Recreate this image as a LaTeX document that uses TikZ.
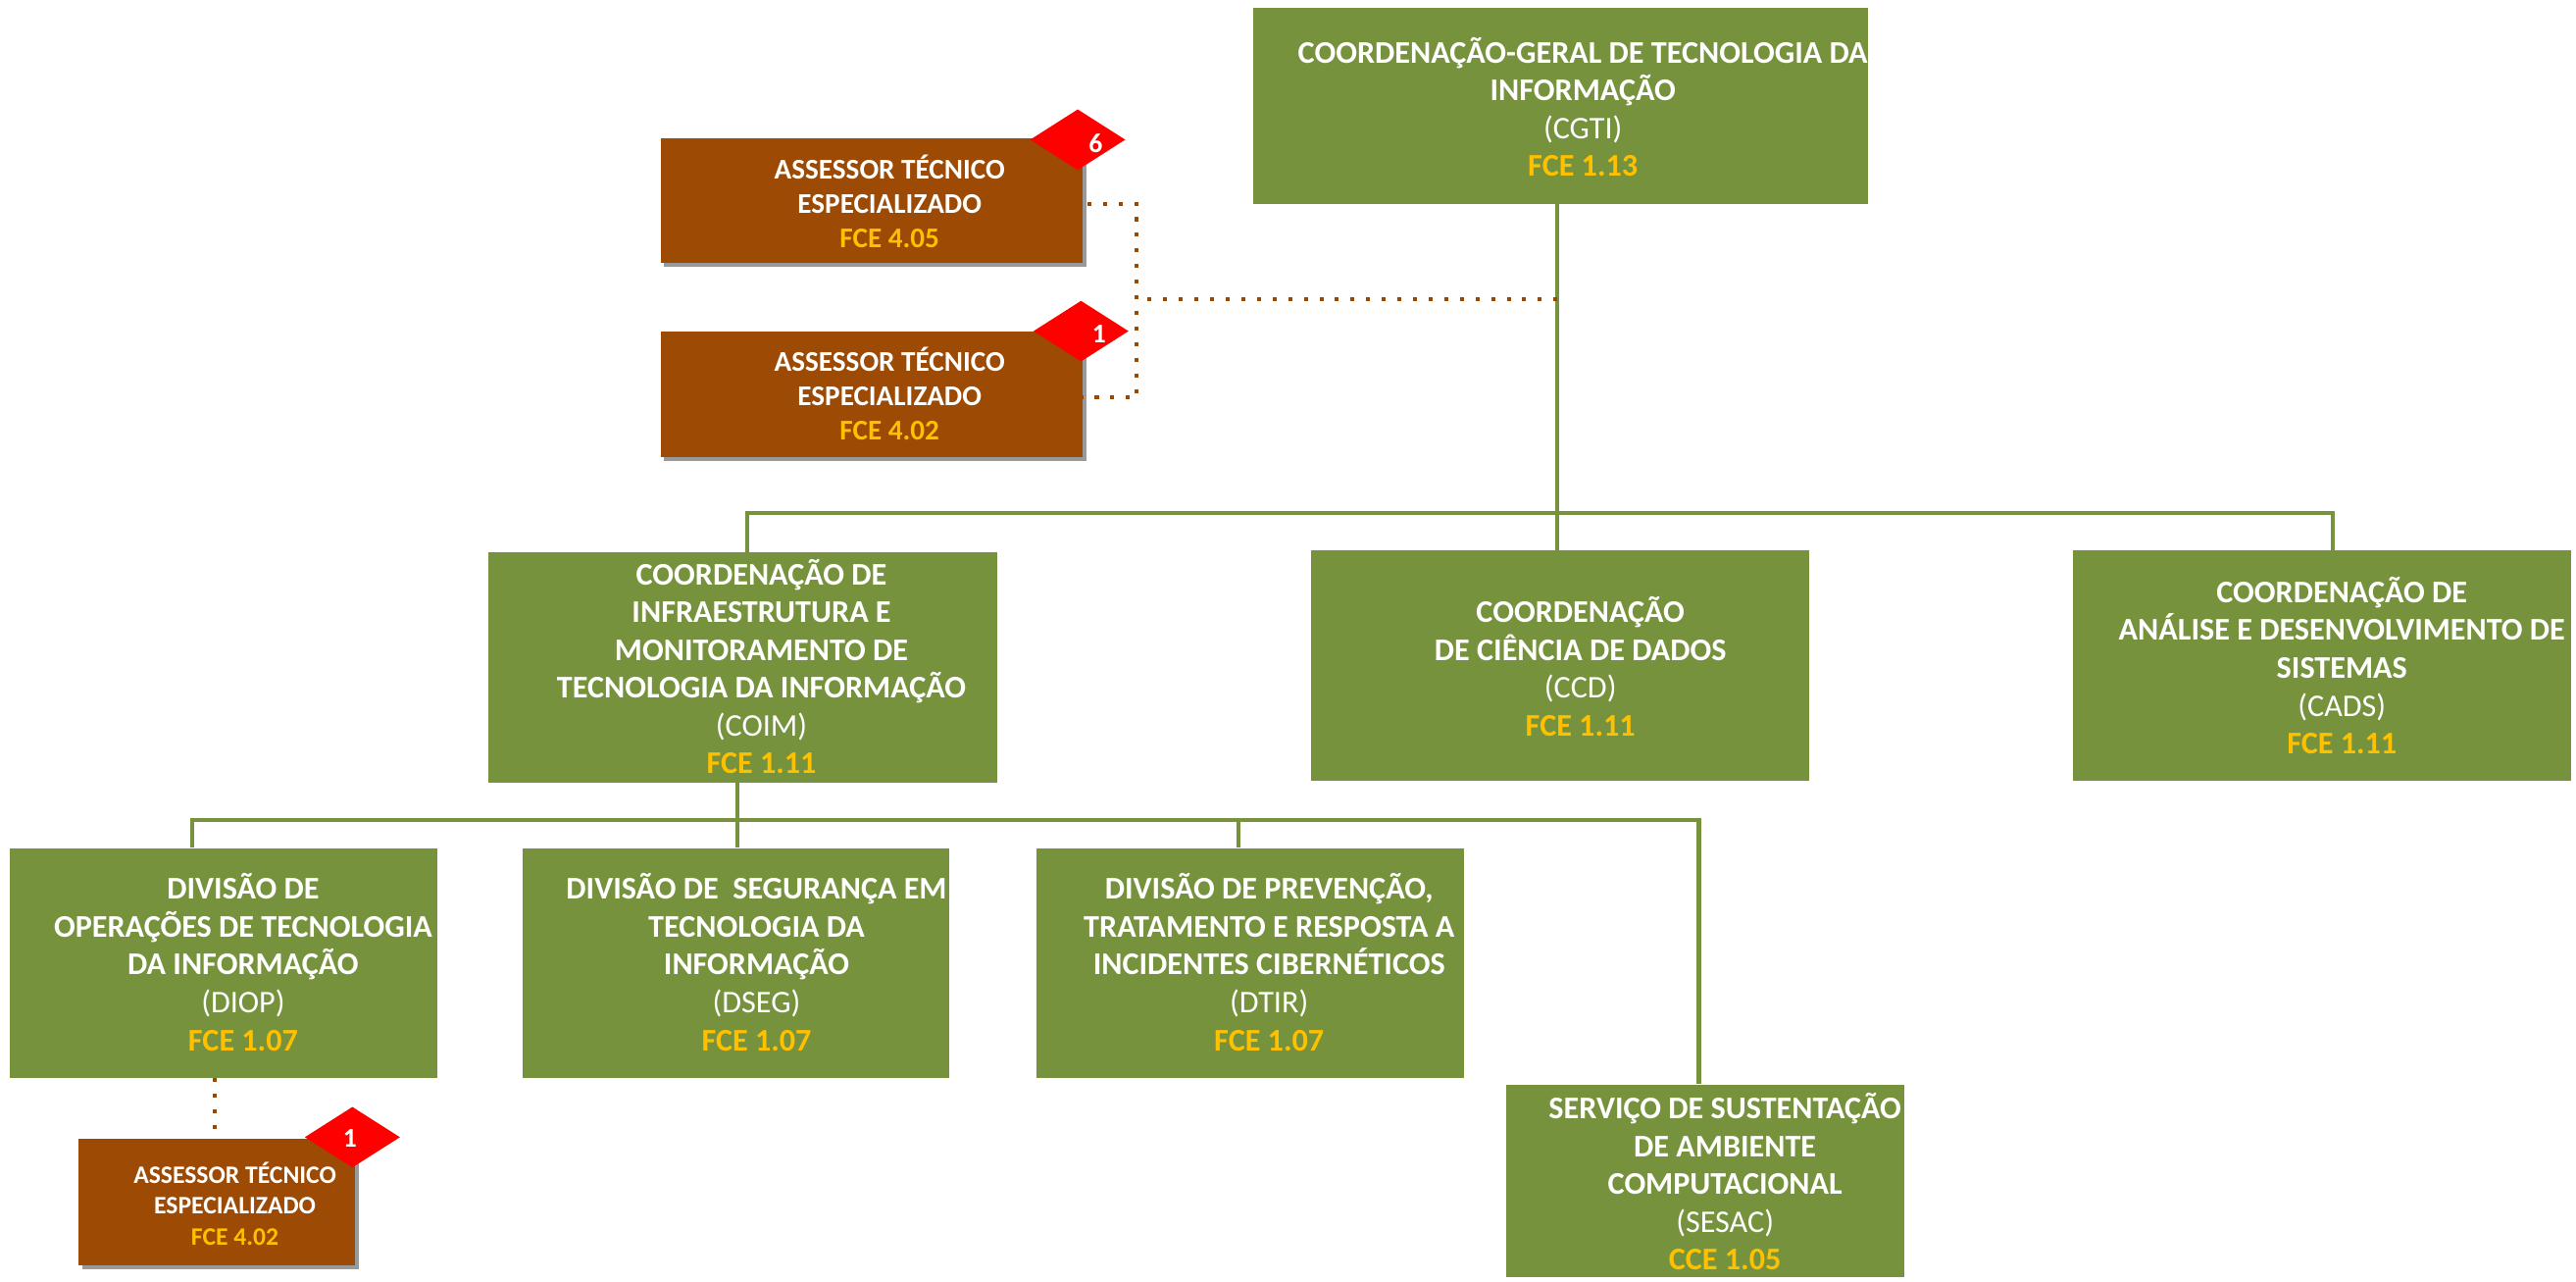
\documentclass[tikz,border=0pt]{standalone}
\usepackage{fontspec}
\setmainfont{Carlito}
\usetikzlibrary{shapes.geometric,shadows}
\definecolor{bgreen}{HTML}{76923C}
\definecolor{bbrown}{HTML}{9C4A04}
\definecolor{dotbrown}{HTML}{984806}
\definecolor{gold}{HTML}{FFC000}
\definecolor{shadowgray}{HTML}{999999}
\newcommand{\fce}[1]{\textcolor{gold}{\textbf{#1}}}
\tikzset{
  x=1pt,y=-1pt,
  greenbox/.style={rectangle,fill=bgreen,draw=none,inner sep=0pt},
  brownbox/.style={rectangle,fill=bbrown,draw=none,inner sep=0pt,
    general shadow={fill=shadowgray,shadow xshift=2.2pt,shadow yshift=-2.6pt}},
  badge/.style={diamond,aspect=1.55,fill=red,draw=none,inner sep=0pt,minimum width=58pt,minimum height=37pt},
  badgetext/.style={text=white,font=\fontsize{16.5}{16.5}\selectfont\bfseries,inner sep=0pt},
  boxtext/.style={text=white,align=center,inner sep=0pt,font=\fontsize{19.2}{23}\selectfont},
  assesstext/.style={text=white,align=center,inner sep=0pt,font=\fontsize{17.4}{21}\selectfont},
  smalltext/.style={text=white,align=center,inner sep=0pt,font=\fontsize{15.3}{19}\selectfont},
  trunk/.style={draw=bgreen,line width=2.6pt},
  dots/.style={draw=dotbrown,line width=2.4pt,dash pattern=on 2.4pt off 7.1pt}
}
\begin{document}
\begin{tikzpicture}
\useasboundingbox (0,0) rectangle (1568,780);
% connectors underneath
\coordinate (t0) at (948,124);
\coordinate (t1) at (948,312);
\coordinate (tm) at (948,182);
\coordinate (j0) at (692,182);
\coordinate (j1) at (692,124);
\coordinate (j2) at (692,242);
\coordinate (h1) at (455,312);
\coordinate (h3) at (1420,312);
\coordinate (s0) at (449,476);
\coordinate (s1) at (449,499);
\coordinate (sl) at (117,499);
\coordinate (sm) at (754,499);
\coordinate (sr) at (1034,499);
% boxes
\node[greenbox,minimum width=374pt,minimum height=119pt] (cgti) at (950,64.5) {};
\node[brownbox,minimum width=257pt,minimum height=76pt] (a1) at (530.5,122) {};
\node[brownbox,minimum width=257pt,minimum height=76pt] (a2) at (530.5,240) {};
\node[greenbox,minimum width=310pt,minimum height=140pt] (coim) at (452,406) {};
\node[greenbox,minimum width=303pt,minimum height=140pt] (ccd) at (949.5,405) {};
\node[greenbox,minimum width=303pt,minimum height=140pt] (cads) at (1413.5,405) {};
\node[greenbox,minimum width=260pt,minimum height=140pt] (diop) at (136,586) {};
\node[greenbox,minimum width=260pt,minimum height=140pt] (dseg) at (448,586) {};
\node[greenbox,minimum width=260pt,minimum height=140pt] (dtir) at (761,586) {};
\node[greenbox,minimum width=242pt,minimum height=117pt] (sesac) at (1038,718.5) {};
\node[brownbox,minimum width=168pt,minimum height=77pt] (a3) at (132,731.5) {};
% solid connectors
\draw[trunk] (t0) -- (t1);
\draw[trunk] (h1 |- coim.north) -- (h1) -- (h3) -- (h3 |- cads.north);
\draw[trunk] (t1) -- (t1 |- ccd.north);
\draw[trunk] (s0) -- (s1);
\draw[trunk] (sl |- diop.north) -- (sl) -- (sr) -- (sr |- sesac.north);
\draw[trunk] (s1) -- (s1 |- dseg.north);
\draw[trunk] (sm) -- (sm |- dtir.north);
% dotted connectors
\draw[dots] (tm) -- (j0);
\draw[dots] (a1.east |- j1) ++(3,0) coordinate (a1e) -- (j1) -- (j2) -- (a2.east |- j2);
\coordinate (d3) at (131,656);
\draw[dots] (d3) -- (131,690);
% badges
\node[badge] (b1) at (656,85) {};
\node[badge] (b2) at (658,201.5) {};
\node[badge] (b3) at (214.5,692) {};
\node[badgetext] (b1t) at (667,87) {6};
\node[badgetext] (b2t) at (669,203) {1};
\node[badgetext] (b3t) at (213,692.5) {1};
% texts
\node[boxtext] (cgtit) at (963.5,65) {\textbf{COORDENAÇÃO-GERAL DE TECNOLOGIA DA}\\\textbf{INFORMAÇÃO}\\(CGTI)\\\fce{FCE 1.13}};
\node[assesstext] (a1t) at (541.5,122.5) {\textbf{ASSESSOR TÉCNICO}\\\textbf{ESPECIALIZADO}\\\fce{FCE 4.05}};
\node[assesstext] (a2t) at (541.5,239.5) {\textbf{ASSESSOR TÉCNICO}\\\textbf{ESPECIALIZADO}\\\fce{FCE 4.02}};
\node[boxtext] (coimt) at (463.5,405.5) {\textbf{COORDENAÇÃO DE}\\\textbf{INFRAESTRUTURA E}\\\textbf{MONITORAMENTO DE}\\\textbf{TECNOLOGIA DA INFORMAÇÃO}\\(COIM)\\\fce{FCE 1.11}};
\node[boxtext] (ccdt) at (962,405.5) {\textbf{COORDENAÇÃO}\\\textbf{DE CIÊNCIA DE DADOS}\\(CCD)\\\fce{FCE 1.11}};
\node[boxtext] (cadst) at (1425.5,405) {\textbf{COORDENAÇÃO DE}\\\textbf{ANÁLISE E DESENVOLVIMENTO DE}\\\textbf{SISTEMAS}\\(CADS)\\\fce{FCE 1.11}};
\node[boxtext] (diopt) at (148,585.5) {\textbf{DIVISÃO DE}\\\textbf{OPERAÇÕES DE TECNOLOGIA}\\\textbf{DA INFORMAÇÃO}\\(DIOP)\\\fce{FCE 1.07}};
\node[boxtext] (dsegt) at (460.5,585.5) {\textbf{DIVISÃO DE\ \ SEGURANÇA EM}\\\textbf{TECNOLOGIA DA}\\\textbf{INFORMAÇÃO}\\(DSEG)\\\fce{FCE 1.07}};
\node[boxtext] (dtirt) at (772.5,585.5) {\textbf{DIVISÃO DE PREVENÇÃO,}\\\textbf{TRATAMENTO E RESPOSTA A}\\\textbf{INCIDENTES CIBERNÉTICOS}\\(DTIR)\\\fce{FCE 1.07}};
\node[boxtext] (sesact) at (1050,719) {\textbf{SERVIÇO DE SUSTENTAÇÃO}\\\textbf{DE AMBIENTE}\\\textbf{COMPUTACIONAL}\\(SESAC)\\\fce{CCE 1.05}};
\node[smalltext] (a3t) at (143,732.5) {\textbf{ASSESSOR TÉCNICO}\\\textbf{ESPECIALIZADO}\\\fce{FCE 4.02}};
\end{tikzpicture}
\end{document}
